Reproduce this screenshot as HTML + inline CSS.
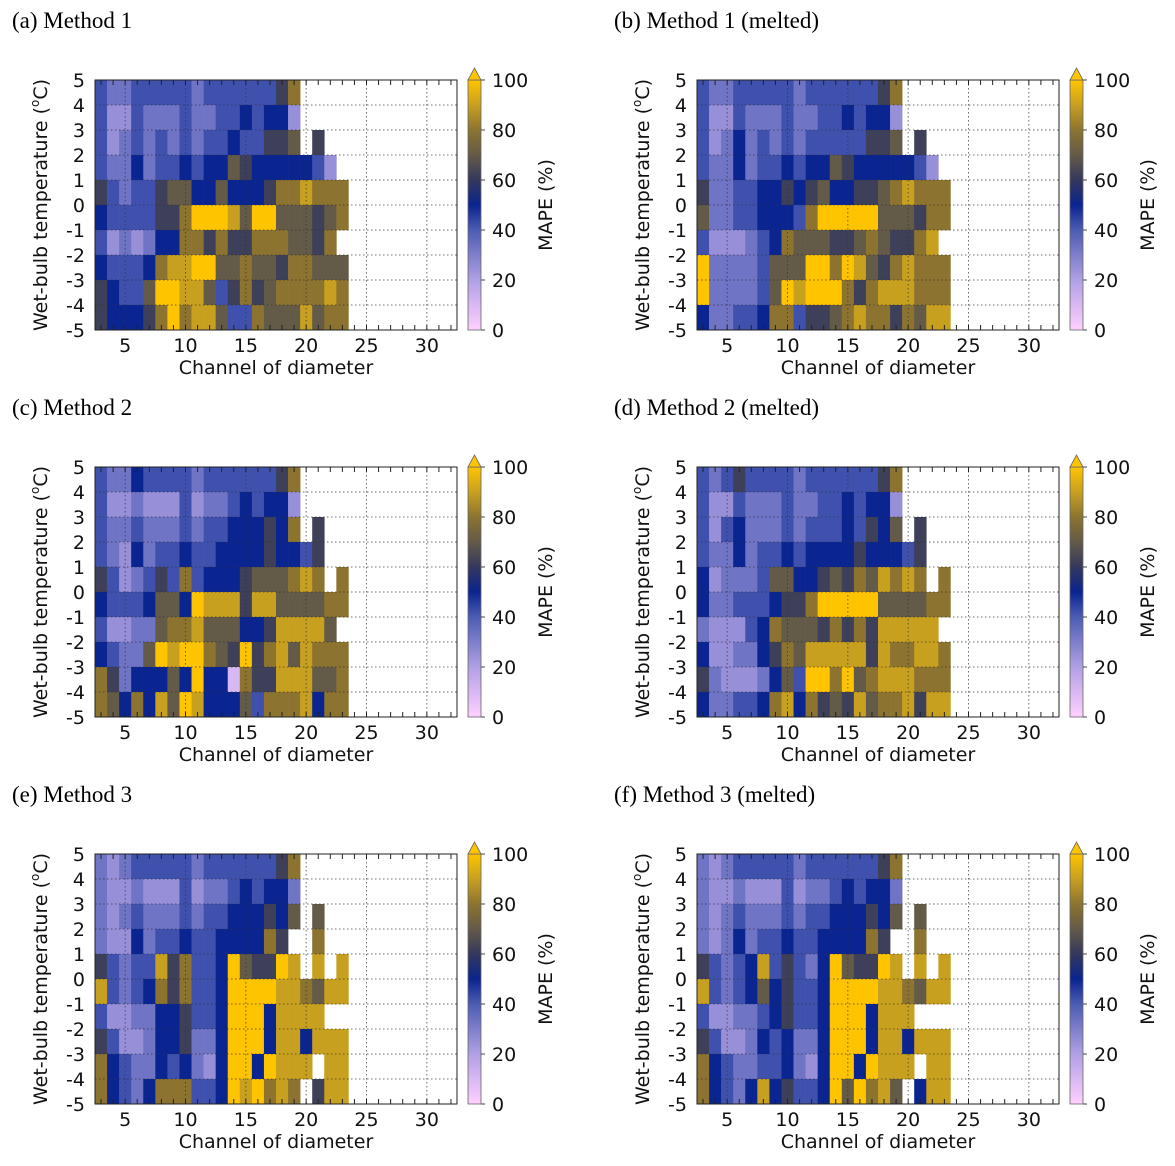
<!DOCTYPE html>
<html><head><meta charset="utf-8"><style>
html,body{margin:0;padding:0;background:#fff;}
svg{display:block;}
</style></head><body>
<svg id="fig" width="1175" height="1166" viewBox="0 0 1175 1166" xmlns="http://www.w3.org/2000/svg"></svg>
<script>
const channels=[3,4,5,6,7,8,9,10,11,12,13,14,15,16,17,18,19,20,21,22,23];
const temps=[4.5,3.5,2.5,1.5,0.5,-0.5,-1.5,-2.5,-3.5,-4.5];
const xTicks=[5,10,15,20,25,30];
const yTicks=[5,4,3,2,1,0,-1,-2,-3,-4,-5];
const cbTicks=[0,20,40,60,80,100];
const titles=["(a) Method 1","(b) Method 1 (melted)","(c) Method 2","(d) Method 2 (melted)","(e) Method 3","(f) Method 3 (melted)"];
const n=null;
const mapeA=[
[42,33,33,42,42,42,42,42,33,42,42,42,42,42,42,62,80,n,n,n,n],
[42,25,25,42,33,33,33,42,33,33,42,42,50,42,50,50,25,n,n,n,n],
[42,25,33,42,33,42,33,42,33,42,42,50,42,42,62,62,70,n,62,n,n],
[42,33,33,50,33,42,42,50,42,50,50,70,62,50,50,50,50,50,42,25,n],
[62,42,33,42,42,62,70,70,50,50,70,50,50,50,62,80,80,90,80,80,80],
[50,42,42,42,42,62,62,80,100,100,100,90,70,100,100,70,70,70,62,70,80],
[42,25,33,25,33,50,50,80,80,62,80,62,62,80,80,80,70,70,62,80,n],
[50,42,42,42,50,80,90,90,100,100,70,70,80,70,70,62,80,80,70,70,70],
[62,50,42,42,70,100,100,90,90,70,42,62,80,62,70,80,80,80,80,90,80],
[62,50,50,50,62,80,100,80,90,90,70,42,42,80,70,70,70,90,70,80,80]];
const mapeB=[
[42,33,33,42,42,42,42,42,33,42,42,42,42,42,42,62,80,n,n,n,n],
[42,25,25,42,33,33,33,42,33,33,42,42,50,42,50,50,25,n,n,n,n],
[42,25,33,50,33,42,33,42,33,42,42,42,42,42,62,62,70,n,62,n,n],
[42,33,33,50,33,42,42,50,42,50,50,70,62,50,50,50,50,50,42,25,n],
[62,33,33,42,42,50,50,62,50,62,70,50,50,62,62,70,80,90,80,80,80],
[70,33,33,42,42,50,50,50,42,80,100,100,100,100,100,70,70,70,62,80,80],
[42,25,25,25,33,42,50,80,70,70,70,62,62,70,80,70,62,62,80,90,n],
[100,33,33,33,33,42,70,70,70,100,100,80,100,90,70,62,80,90,80,80,80],
[100,33,33,33,33,42,70,100,90,100,100,100,80,62,80,90,90,90,80,80,80],
[50,33,33,42,42,50,80,80,42,62,62,70,80,90,80,80,62,80,70,90,90]];
const mapeC=[
[42,33,33,50,42,42,42,42,33,42,42,42,42,42,42,62,80,n,n,n,n],
[42,25,25,33,25,25,25,42,25,33,33,42,50,42,50,50,25,n,n,n,n],
[42,33,33,42,33,33,33,42,33,42,42,50,50,50,62,50,80,n,62,n,n],
[42,33,25,50,33,42,42,50,42,42,50,50,50,50,62,50,50,42,62,n,n],
[62,42,25,33,42,62,42,80,42,50,50,50,62,70,70,70,80,90,80,n,80],
[50,42,42,42,50,70,70,50,100,90,90,90,62,90,90,70,70,70,70,80,80],
[42,25,25,33,33,70,80,80,90,70,70,70,50,50,62,90,90,90,90,70,n],
[50,42,33,33,70,100,90,100,100,80,70,62,100,62,80,90,70,90,80,80,80],
[80,62,33,50,50,50,70,50,100,50,50,10,80,62,62,90,90,90,70,70,80],
[80,70,50,80,50,90,70,100,90,50,50,50,70,42,80,80,80,90,50,80,80]];
const mapeD=[
[42,33,42,62,42,42,42,42,33,42,42,42,42,42,42,62,80,n,n,n,n],
[42,25,25,42,33,33,33,42,33,33,42,42,50,42,50,50,25,n,n,n,n],
[42,25,42,50,33,33,33,42,33,42,42,42,50,42,62,50,70,n,62,n,n],
[42,33,33,50,33,42,42,50,42,50,50,50,50,62,50,50,50,42,62,n,n],
[50,25,33,33,33,42,70,70,50,50,62,70,62,80,70,90,80,90,80,n,80],
[50,33,33,42,42,42,50,62,62,80,100,100,100,100,100,70,70,70,70,80,80],
[33,25,25,25,42,50,80,70,70,70,62,80,62,80,62,90,90,90,90,90,n],
[50,25,25,33,33,50,62,80,70,90,90,90,90,90,62,90,80,80,90,90,80],
[62,33,25,25,25,33,50,70,42,100,100,80,100,70,80,90,90,90,80,80,80],
[50,33,33,42,42,50,80,90,50,80,62,70,62,90,70,80,80,90,62,90,90]];
const mapeE=[
[33,25,33,42,42,42,42,42,33,42,42,42,42,42,42,62,80,n,n,n,n],
[33,25,25,33,25,25,25,42,25,33,33,42,50,42,50,50,33,n,n,n,n],
[33,25,33,42,33,33,33,42,33,42,42,50,50,50,62,50,70,n,70,n,n],
[33,25,25,50,33,42,42,50,42,42,50,50,50,50,80,62,n,n,80,n,n],
[62,42,33,42,42,90,62,80,42,42,50,100,70,62,62,100,90,n,90,n,90],
[90,42,33,42,50,80,62,80,42,42,50,100,100,100,100,90,90,80,70,90,90],
[42,25,25,33,33,50,50,62,42,42,50,100,100,100,50,90,90,90,90,n,n],
[62,42,25,25,33,50,50,62,33,33,50,100,100,100,50,90,90,50,90,90,90],
[80,50,42,33,33,50,42,50,33,25,50,100,100,50,100,90,90,90,n,90,90],
[80,50,42,33,50,80,80,80,42,42,50,100,90,100,80,90,80,n,62,90,90]];
const mapeF=[
[33,25,33,42,42,42,42,42,33,42,42,42,42,42,42,62,80,n,n,n,n],
[33,25,25,33,25,25,25,42,25,33,33,42,50,42,50,50,33,n,n,n,n],
[33,25,33,42,33,33,33,42,33,42,42,50,50,50,62,50,70,n,70,n,n],
[33,25,33,50,33,42,42,50,42,42,50,50,50,50,80,62,n,n,80,n,n],
[62,42,33,42,50,90,42,62,42,33,50,100,70,62,62,100,90,n,90,n,90],
[90,42,33,42,50,70,50,62,42,42,50,100,100,100,100,90,90,80,70,90,90],
[42,25,25,33,33,42,50,62,42,42,50,100,100,100,50,90,90,90,n,n,n],
[62,42,25,25,33,50,42,50,33,33,50,100,100,100,50,90,90,50,90,90,90],
[80,50,42,33,33,42,42,50,33,25,50,100,100,50,100,90,90,90,n,90,90],
[80,50,42,33,50,90,50,62,42,42,50,100,70,100,80,90,70,n,50,90,90]];
const panels=[mapeA,mapeB,mapeC,mapeD,mapeE,mapeF];

const stops=[[0,[255,208,255]],[20,[176,160,228]],[40,[76,92,180]],[50,[10,36,144]],[60,[52,56,92]],[70,[100,90,72]],[80,[140,116,48]],[90,[200,160,32]],[100,[255,196,0]]];
function cmap(v){v=Math.max(0,Math.min(100,v));
 for(let i=1;i<stops.length;i++){if(v<=stops[i][0]){const a=stops[i-1],b=stops[i],t=(v-a[0])/(b[0]-a[0]);
  const c=a[1].map((x,k)=>Math.round(x+(b[1][k]-x)*t));return `rgb(${c[0]},${c[1]},${c[2]})`;}}
 return 'rgb(255,196,0)';}

const NS="http://www.w3.org/2000/svg";
const svg=document.getElementById('fig');
function mk(tag,attrs,parent,text){const e=document.createElementNS(NS,tag);for(const k in attrs)e.setAttribute(k,attrs[k]);if(text!==undefined)e.textContent=text;(parent||svg).appendChild(e);return e;}

const PW=362,PH=250;
const origins=[[95,80],[697,80],[95,467],[697,467],[95,854],[697,854]];
const sans='"DejaVu Sans","Liberation Sans",sans-serif';
const serif='"Liberation Serif",serif';

panels.forEach((data,p)=>{
 const [ox,oy]=origins[p];
 const g=mk('g',{});
 
 
 const xs=v=>ox+(v-2.5)/30*PW;
 const ys=v=>oy+(5-v)/10*PH;
 const t=mk('text',{x:ox-83,y:oy-52,'font-family':serif,'font-size':23,fill:'#000'},g,titles[p]);
 
 
 data.forEach((row,r)=>{row.forEach((v,c)=>{if(v===null)return;
  const x0=xs(channels[c]-0.5),x1=xs(channels[c]+0.5),y0=ys(temps[r]+0.5),y1=ys(temps[r]-0.5);
  const rc=mk('rect',{x:x0.toFixed(2),y:y0.toFixed(2),width:(x1-x0+0.3).toFixed(2),height:(y1-y0+0.3).toFixed(2),fill:cmap(v)},g);
  
  
 });});
 xTicks.forEach(v=>{const l=mk('line',{x1:xs(v),x2:xs(v),y1:oy,y2:oy+PH,stroke:'#333','stroke-width':1,'stroke-dasharray':'1.5,2.5',opacity:0.7},g);
  });
 yTicks.slice(1,-1).forEach(v=>{const l=mk('line',{x1:ox,x2:ox+PW,y1:ys(v),y2:ys(v),stroke:'#333','stroke-width':1,'stroke-dasharray':'1.5,2.5',opacity:0.7},g);
  });
 for(let v=3;v<=32;v++){mk('line',{x1:xs(v),x2:xs(v),y1:oy+PH,y2:oy+PH-5,stroke:'#222','stroke-width':1},g);mk('line',{x1:xs(v),x2:xs(v),y1:oy,y2:oy+5,stroke:'#222','stroke-width':1},g);}
 const fr=mk('rect',{x:ox,y:oy,width:PW,height:PH,fill:'none',stroke:'#222','stroke-width':1},g);
 
 xTicks.forEach(v=>{const tx=mk('text',{x:xs(v),y:oy+PH+22,'text-anchor':'middle','font-family':sans,'font-size':19,fill:'#111'},g,String(v));
  });
 yTicks.forEach(v=>{const tx=mk('text',{x:ox-10,y:ys(v)+7,'text-anchor':'end','font-family':sans,'font-size':19,fill:'#111'},g,String(v));
  });
 const xt=mk('text',{x:ox+181,y:oy+PH+44,'text-anchor':'middle','font-family':sans,'font-size':19,fill:'#111'},g,'Channel of diameter');
 
 const yt=mk('text',{transform:`translate(${ox-48},${oy+PH/2}) rotate(-90)`,'text-anchor':'middle','font-family':sans,'font-size':19,fill:'#111'},g);
 
 mk('tspan',{},yt,'Wet-bulb temperature (');mk('tspan',{'font-size':12,dy:-8},yt,'o');mk('tspan',{dy:8},yt,'C)');
 const cx=ox+373,cw=13;
 const gid='cbg'+p;
 const defs=mk('defs',{},g);const lg=mk('linearGradient',{id:gid,x1:0,y1:1,x2:0,y2:0},defs);
 for(let v=0;v<=100;v+=5)mk('stop',{offset:v/100,'stop-color':cmap(v)},lg);
 const cb=mk('rect',{x:cx,y:oy,width:cw,height:PH,fill:`url(#${gid})`,stroke:'#666','stroke-width':0.8},g);
 
 const ar=mk('polygon',{points:`${cx},${oy} ${cx+cw},${oy} ${cx+cw/2},${oy-12}`,fill:cmap(100),stroke:'#666','stroke-width':0.8},g);
 
 cbTicks.forEach(v=>{const y=oy+PH-v/100*PH;mk('line',{x1:cx+cw,x2:cx+cw+4,y1:y,y2:y,stroke:'#444'},g);
  const tx=mk('text',{x:cx+24,y:y+7,'font-family':sans,'font-size':19,fill:'#111'},g,String(v));
  });
 const ct=mk('text',{transform:`translate(${cx+84},${oy+PH/2}) rotate(-90)`,'text-anchor':'middle','font-family':sans,'font-size':19,fill:'#111'},g,'MAPE (%)');
 
});
</script>
</body></html>
